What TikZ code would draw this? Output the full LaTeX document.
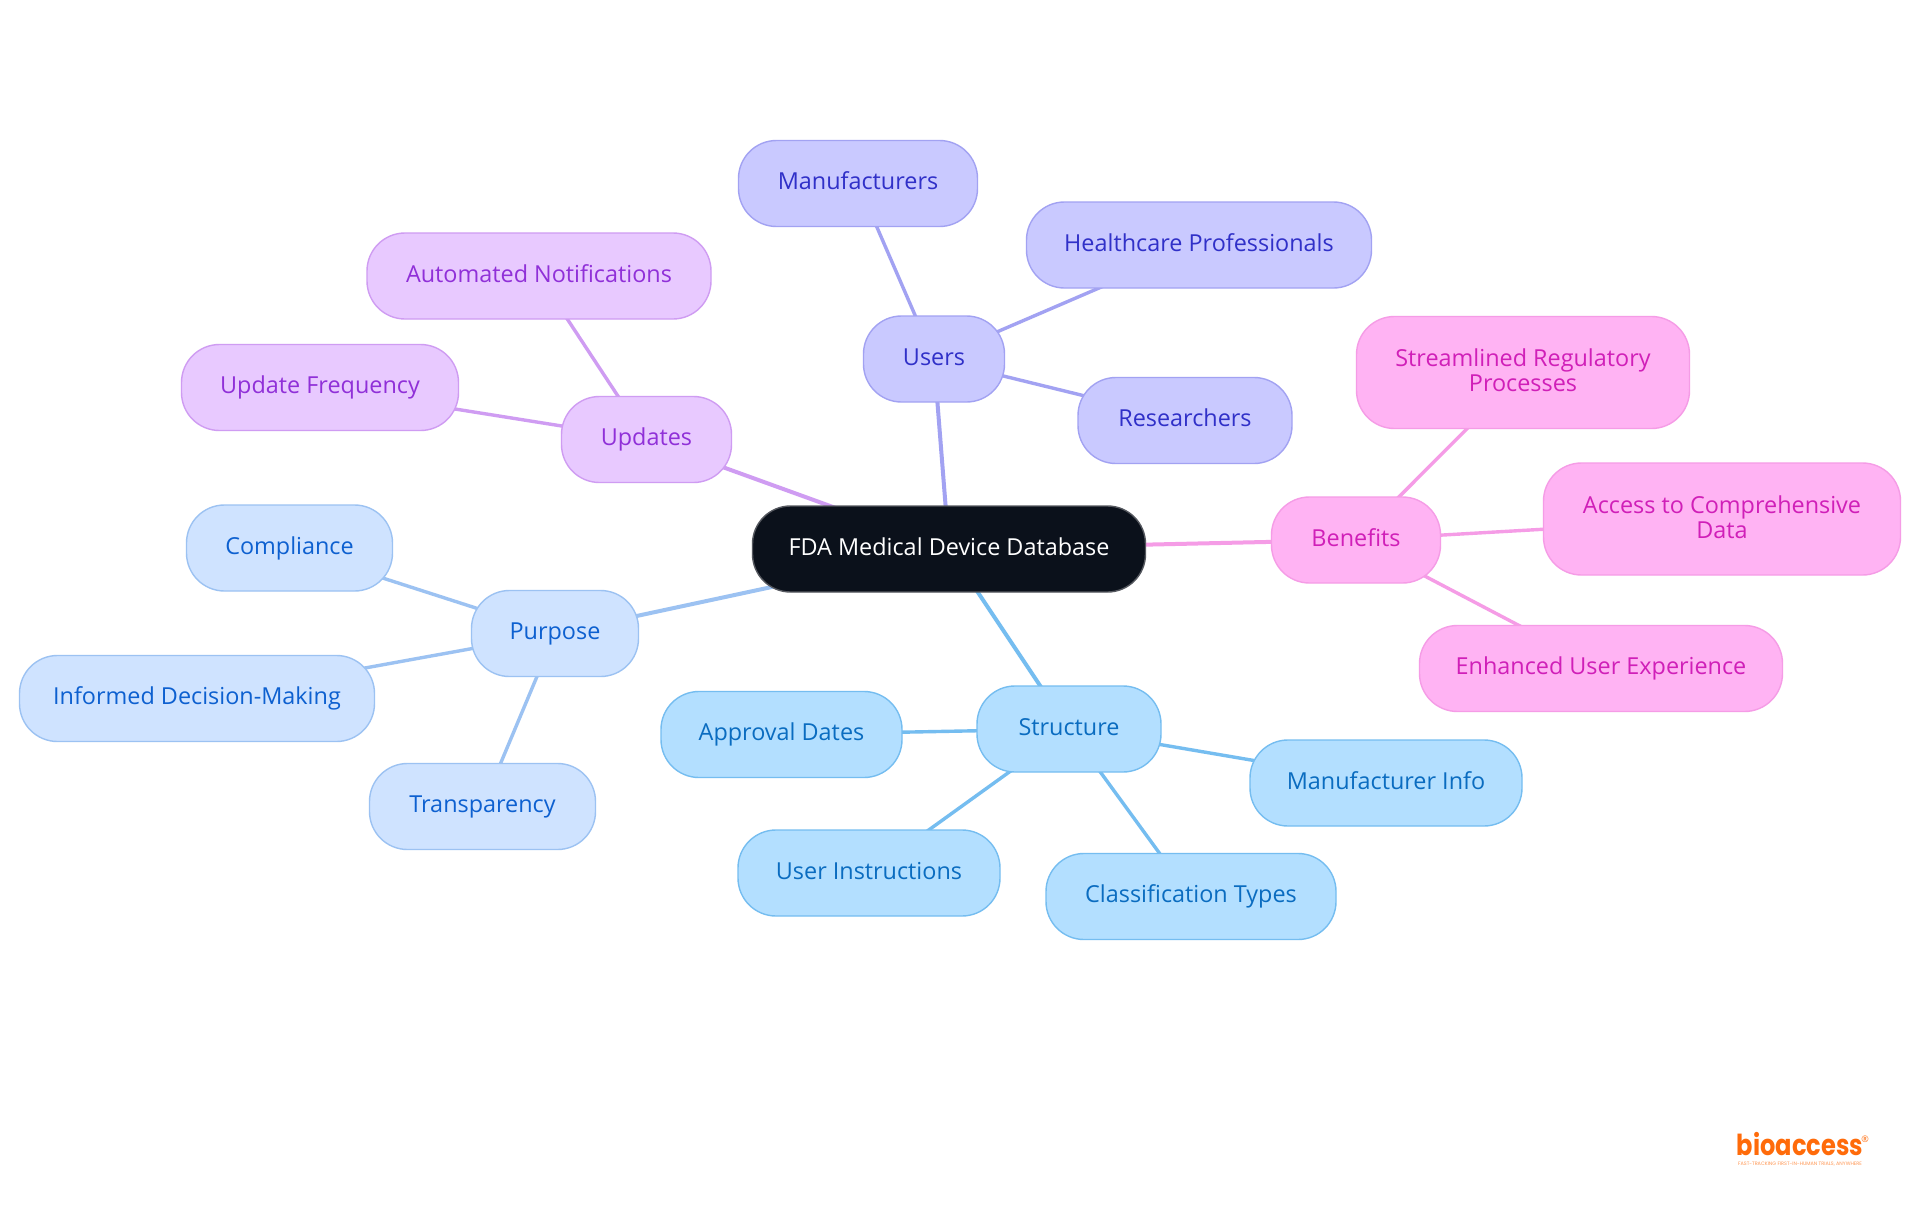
\documentclass[tikz,border=0pt]{standalone}
\usepackage{fontspec}
\setmainfont{Open Sans}
\newfontfamily\logofont{Poppins}
\usetikzlibrary{backgrounds}
\definecolor{rootfill}{HTML}{0B111B}
\definecolor{rootline}{HTML}{55585F}
\definecolor{usersfill}{HTML}{C9C9FF}
\definecolor{usersline}{HTML}{A2A2F2}
\definecolor{userstext}{HTML}{3030C8}
\definecolor{updfill}{HTML}{E8C9FF}
\definecolor{updline}{HTML}{CF9CF2}
\definecolor{updtext}{HTML}{9030D8}
\definecolor{purfill}{HTML}{CFE3FF}
\definecolor{purline}{HTML}{9CC2F2}
\definecolor{purtext}{HTML}{0D60D0}
\definecolor{strfill}{HTML}{B3DFFF}
\definecolor{strline}{HTML}{75BDF0}
\definecolor{strtext}{HTML}{0A6CC0}
\definecolor{benfill}{HTML}{FFB3F3}
\definecolor{benline}{HTML}{F59CE6}
\definecolor{bentext}{HTML}{D01FB8}
\definecolor{logoorange}{HTML}{FF6B0A}
\tikzset{
  box/.style={rounded corners=38pt,line width=1.4pt,align=center,inner sep=0pt,
    minimum height=86pt,text height=18.6pt,text depth=6pt,font=\fontsize{23.4}{25}\selectfont},
  tall/.style={minimum height=112pt,text height=44pt},
  rootbox/.style={box,fill=rootfill,draw=rootline,text=white},
  usersbox/.style={box,fill=usersfill,draw=usersline,text=userstext},
  updbox/.style={box,fill=updfill,draw=updline,text=updtext},
  purbox/.style={box,fill=purfill,draw=purline,text=purtext},
  strbox/.style={box,fill=strfill,draw=strline,text=strtext},
  benbox/.style={box,fill=benfill,draw=benline,text=bentext},
  main/.style={line width=4pt},
  sub/.style={line width=3.4pt},
}
\begin{document}
\begin{tikzpicture}[x=1pt,y=-1pt]
\path[use as bounding box] (0,0) rectangle (1920,1215);
\node[rootbox,minimum width=393pt] (root) at (949,549) {FDA Medical Device Database};
\node[usersbox,minimum width=141pt] (users) at (934,359) {Users};
\node[usersbox,minimum width=239pt] (manu) at (858,183.5) {Manufacturers};
\node[usersbox,minimum width=345pt] (health) at (1199,245) {Healthcare Professionals};
\node[usersbox,minimum width=214pt] (res) at (1185,420.5) {Researchers};
\node[updbox,minimum width=170pt] (upd) at (646.5,439.5) {Updates};
\node[updbox,minimum width=344pt] (auto) at (539,276) {Automated Notifications};
\node[updbox,minimum width=277pt] (freq) at (320,387.5) {Update Frequency};
\node[purbox,minimum width=167pt] (pur) at (555,633.5) {Purpose};
\node[purbox,minimum width=206pt] (comp) at (289.5,548) {Compliance};
\node[purbox,minimum width=355pt] (inf) at (197,698.5) {Informed Decision-Making};
\node[purbox,minimum width=226pt] (trans) at (482.5,806.5) {Transparency};
\node[strbox,minimum width=184pt] (str) at (1069,729) {Structure};
\node[strbox,minimum width=241pt] (appr) at (781.5,734.5) {Approval Dates};
\node[strbox,minimum width=272pt] (minfo) at (1386,783) {Manufacturer Info};
\node[strbox,minimum width=262pt] (uinst) at (869,873) {User Instructions};
\node[strbox,minimum width=290pt] (cls) at (1191,896.5) {Classification Types};
\node[benbox,minimum width=169pt] (ben) at (1356,540) {Benefits};
\node[benbox,tall,minimum width=333pt] (stream) at (1523,372.5) {Streamlined Regulatory\\Processes};
\node[benbox,tall,minimum width=357pt] (acc) at (1722,519) {Access to Comprehensive\\Data};
\node[benbox,minimum width=363pt] (enh) at (1601,668.5) {Enhanced User Experience};
\begin{scope}[on background layer]
\fill[white] (0,0) rectangle (1920,1215);
\draw[main,usersline] (root.center) -- (users.center);
\draw[main,updline] (root.center) -- (upd.center);
\draw[main,purline] (root.center) -- (pur.center);
\draw[main,strline] (root.center) -- (str.center);
\draw[main,benline] (root.center) -- (ben.center);
\draw[sub,usersline] (users.center) -- (manu.center);
\draw[sub,usersline] (users.center) -- (health.center);
\draw[sub,usersline] (users.center) -- (res.center);
\draw[sub,updline] (upd.center) -- (auto.center);
\draw[sub,updline] (upd.center) -- (freq.center);
\draw[sub,purline] (pur.center) -- (comp.center);
\draw[sub,purline] (pur.center) -- (inf.center);
\draw[sub,purline] (pur.center) -- (trans.center);
\draw[sub,strline] (str.center) -- (appr.center);
\draw[sub,strline] (str.center) -- (minfo.center);
\draw[sub,strline] (str.center) -- (uinst.center);
\draw[sub,strline] (str.center) -- (cls.center);
\draw[sub,benline] (ben.center) -- (stream.center);
\draw[sub,benline] (ben.center) -- (acc.center);
\draw[sub,benline] (ben.center) -- (enh.center);
\end{scope}
\node[inner sep=0pt,text=logoorange,font=\logofont\bfseries\fontsize{24.1}{25}\selectfont] (logo) at (1800,1144) {\scalebox{1}[1.2]{bioaccess}};
\node[inner sep=0pt,text=logoorange,font=\fontsize{9}{9}\selectfont] (reg) at (1865,1139) {®};
\node[inner sep=0pt,text=logoorange!70,text height=3.5pt,text depth=0pt,font=\logofont\fontsize{4.9}{5}\selectfont] (tag) at (1800,1164) {FAST-TRACKING FIRST-IN-HUMAN TRIALS, ANYWHERE};
\end{tikzpicture}
\end{document}
